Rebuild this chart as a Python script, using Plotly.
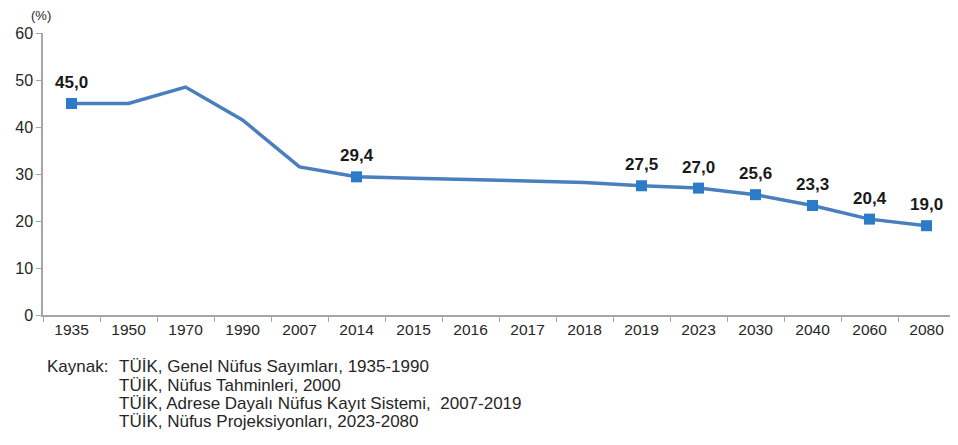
import plotly.graph_objects as go

years = ["1935", "1950", "1970", "1990", "2007", "2014", "2015", "2016",
         "2017", "2018", "2019", "2023", "2030", "2040", "2060", "2080"]
values = [45.0, 45.0, 48.5, 41.5, 31.5, 29.4, 29.1, 28.8,
          28.5, 28.2, 27.5, 27.0, 25.6, 23.3, 20.4, 19.0]
labeled_years = ["1935", "2014", "2019", "2023", "2030", "2040", "2060", "2080"]
labeled_values = [45.0, 29.4, 27.5, 27.0, 25.6, 23.3, 20.4, 19.0]
label_texts = ["45,0", "29,4", "27,5", "27,0", "25,6", "23,3", "20,4", "19,0"]
y_ticks = [0, 10, 20, 30, 40, 50, 60]
source_prefix = "Kaynak:"
source_lines = [
    "TÜİK, Genel Nüfus Sayımları, 1935-1990",
    "TÜİK, Nüfus Tahminleri, 2000",
    "TÜİK, Adrese Dayalı Nüfus Kayıt Sistemi,  2007-2019",
    "TÜİK, Nüfus Projeksiyonları, 2023-2080",
]

FONT = "Liberation Sans, Arial, sans-serif"
TXT = "#262626"

# page body has an 8px margin; plot area spans x 43..958 (cut at window edge), y 33..315
OFF = 8
L, T, PH = 43, 33, 282
W, H = 958 - OFF, 445 - 2 * OFF
PW = W - (L - OFF)
BAND = 57.0
x_hi = -0.5 + PW / BAND

def px(X):
    return (X - L) / PW

def py(Y):
    return (T + PH - Y) / PH

fig = go.Figure()
fig.add_trace(go.Scatter(
    x=years, y=values, mode="lines",
    line=dict(color="#4A7EBF", width=3.5), hoverinfo="skip", showlegend=False))
fig.add_trace(go.Scatter(
    x=labeled_years, y=labeled_values, mode="markers",
    marker=dict(symbol="square", size=11, color="#2B7BC8"),
    showlegend=False))

for yr, v, t in zip(labeled_years, labeled_values, label_texts):
    fig.add_annotation(x=years.index(yr), y=v, text="<b>%s</b>" % t, showarrow=False,
                       yshift=21, font=dict(family=FONT, size=17, color="#1a1a1a"))

fig.add_annotation(xref="paper", yref="paper", x=px(41), y=py(16),
                   xanchor="center", yanchor="middle", text="(%)",
                   showarrow=False, font=dict(family=FONT, size=13, color=TXT))

src_y = [366, 385, 403, 421]
fig.add_annotation(xref="paper", yref="paper", x=px(45), y=py(src_y[0]),
                   xanchor="left", yanchor="middle", text=source_prefix, showarrow=False,
                   font=dict(family=FONT, size=17, color=TXT))
for i, txt in enumerate(source_lines):
    fig.add_annotation(xref="paper", yref="paper", x=px(117),
                       y=py(src_y[i]), xanchor="left", yanchor="middle",
                       text=txt, showarrow=False,
                       font=dict(family=FONT, size=17, color=TXT))

fig.update_layout(
    width=W, height=H,
    margin=dict(l=L - OFF, r=0, t=T - OFF, b=H - (T - OFF) - PH),
    paper_bgcolor="white", plot_bgcolor="white",
    font=dict(family=FONT, size=16, color=TXT),
    xaxis=dict(type="category", categoryorder="array", categoryarray=years,
               showline=True, linecolor="#a6a6a6", linewidth=1.5,
               ticks="outside", tickson="boundaries", ticklen=5, tickcolor="#a6a6a6",
               showgrid=False, tickfont=dict(size=15.5, color=TXT),
               ticklabeloverflow="allow",
               range=[-0.5, x_hi], fixedrange=True),
    yaxis=dict(range=[0, 60], tickvals=y_ticks, showline=True, linecolor="#a6a6a6",
               linewidth=1.5, ticks="outside", ticklen=5, tickcolor="#a6a6a6",
               showgrid=False, zeroline=False, tickfont=dict(size=16, color=TXT)),
)

fig.write_html("out.html")
